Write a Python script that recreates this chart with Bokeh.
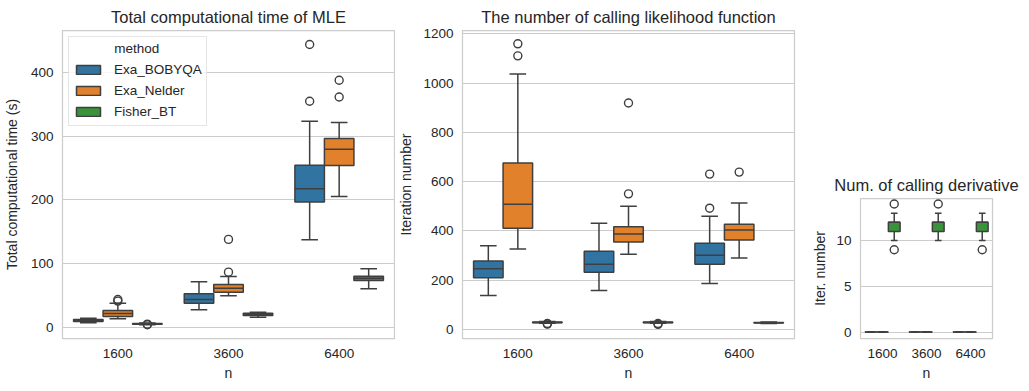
from bokeh.plotting import figure
from bokeh.models import Range1d, FactorRange, Legend, LegendItem, ColumnDataSource, Spacer
from bokeh.transform import dodge
from bokeh.layouts import row, column
from bokeh.embed import file_html
from bokeh.resources import INLINE

n_labels = ["1600", "3600", "6400"]
methods = ["Exa_BOBYQA", "Exa_Nelder", "Fisher_BT"]
colors = ["#3274a1", "#e1812c", "#3a923a"]

# five-number summaries per n: [whisker low, q1, median, q3, whisker high]
time_bobyqa = [[7, 9, 10.5, 12, 14], [27.4, 37.7, 43.5, 52.5, 71.4], [137.4, 196.5, 217.6, 254.2, 323.4]]
time_nelder = [[13.2, 16.8, 21.5, 26.3, 37.7], [49.4, 55.0, 61.3, 67.1, 79.7], [205.5, 253.8, 279.4, 296.2, 321.4]]
time_fisher = [[4.0, 4.7, 5.3, 5.8, 6.6], [15.7, 18.4, 20.0, 22.0, 23.6], [60.4, 73.4, 77.0, 80.2, 91.8]]
time_bobyqa_out = [[], [], [354.9, 444.0]]
time_nelder_out = [[41.0, 43.5], [86.5, 137.9], [361.6, 387.9]]
time_fisher_out = [[4.0, 4.8], [], []]

lik_bobyqa = [[138.3, 209.9, 246.6, 277.9, 340.0], [158.7, 231.9, 264.4, 317.3, 431.2], [187.1, 264.4, 301.0, 349.9, 459.7]]
lik_nelder = [[326.7, 410.9, 508.5, 675.3, 1037.0], [305.0, 355.2, 387.7, 417.4, 500.4], [290.0, 363.3, 404.0, 427.2, 513.8]]
lik_fisher = [[25, 27, 28, 30, 32], [25, 27, 28, 30, 32], [24, 26, 27, 28, 30]]
lik_bobyqa_out = [[], [], [492.3, 630.6]]
lik_nelder_out = [[1110.7, 1159.5], [550.4, 919.4], [638.7]]
lik_fisher_out = [[22, 24], [21, 24], []]

der_bobyqa = [[0, 0, 0, 0, 0], [0, 0, 0, 0, 0], [0, 0, 0, 0, 0]]
der_nelder = [[0, 0, 0, 0, 0], [0, 0, 0, 0, 0], [0, 0, 0, 0, 0]]
der_fisher = [[10, 11, 12, 12, 13], [10, 11, 12, 12, 13], [10, 11, 12, 12, 13]]
der_bobyqa_out = [[], [], []]
der_nelder_out = [[], [], []]
der_fisher_out = [[9, 14], [14], [9]]

time_ticks = [0, 100, 200, 300, 400]
lik_ticks = [0, 200, 400, 600, 800, 1000, 1200]
der_ticks = [0, 5, 10]

EDGE = "#3f3f3f"
TXT = "#262626"
GRID = "#cccccc"
FONT = "Liberation Sans"
BOXW = 0.8 / 3
CAPW = 0.15


def make_fig(title, ylabel, yrange, yticks, frame_w, frame_h, b_left, b_right, lab_standoff):
    p = figure(x_range=FactorRange(*n_labels), y_range=Range1d(*yrange),
               frame_width=frame_w, frame_height=frame_h,
               min_border_left=b_left, min_border_right=b_right,
               min_border_top=30, min_border_bottom=45,
               output_backend="svg", toolbar_location=None, title=title)
    p.title.align = "center"
    p.title.text_font = FONT
    p.title.text_font_size = "16.5px"
    p.title.text_font_style = "normal"
    p.title.text_color = TXT
    p.title.standoff = 9
    p.background_fill_color = "white"
    p.border_fill_color = "white"
    p.outline_line_color = GRID
    p.outline_line_width = 1.25
    p.xgrid.grid_line_color = None
    p.ygrid.grid_line_color = GRID
    p.ygrid.grid_line_width = 1
    p.yaxis.ticker = yticks
    p.xaxis.axis_label = "n"
    p.yaxis.axis_label = ylabel
    for ax in (p.xaxis, p.yaxis):
        ax.axis_line_color = None
        ax.major_tick_line_color = None
        ax.minor_tick_line_color = None
        ax.major_tick_out = 0
        ax.major_tick_in = 0
        ax.minor_tick_out = 0
        ax.minor_tick_in = 0
        ax.major_label_text_font = FONT
        ax.major_label_text_font_size = "13.5px"
        ax.major_label_text_color = TXT
        ax.axis_label_text_font = FONT
        ax.axis_label_text_font_size = "14px"
        ax.axis_label_text_font_style = "normal"
        ax.axis_label_text_color = TXT
    p.yaxis.major_label_standoff = 9
    p.xaxis.major_label_standoff = 10
    p.yaxis.axis_label_standoff = lab_standoff
    p.xaxis.axis_label_standoff = 4
    return p


def draw_boxes(p, stats_list, outs_list):
    box_renderers = []
    for i, (stats, outs, col) in enumerate(zip(stats_list, outs_list, colors)):
        off = (i - 1) * BOXW
        src = ColumnDataSource(dict(
            n=n_labels,
            lo=[s[0] for s in stats], q1=[s[1] for s in stats], med=[s[2] for s in stats],
            q3=[s[3] for s in stats], hi=[s[4] for s in stats]))
        xc = dodge("n", off, range=p.x_range)
        xl = dodge("n", off - CAPW / 2, range=p.x_range)
        xr = dodge("n", off + CAPW / 2, range=p.x_range)
        bl = dodge("n", off - BOXW / 2, range=p.x_range)
        br = dodge("n", off + BOXW / 2, range=p.x_range)
        lw = 1.5
        p.segment(x0=xc, x1=xc, y0="q3", y1="hi", source=src, line_color=EDGE, line_width=lw)
        p.segment(x0=xc, x1=xc, y0="q1", y1="lo", source=src, line_color=EDGE, line_width=lw)
        p.segment(x0=xl, x1=xr, y0="hi", y1="hi", source=src, line_color=EDGE, line_width=lw)
        p.segment(x0=xl, x1=xr, y0="lo", y1="lo", source=src, line_color=EDGE, line_width=lw)
        r = p.vbar(x=xc, width=BOXW, bottom="q1", top="q3", source=src,
                   fill_color=col, line_color=EDGE, line_width=lw)
        p.segment(x0=bl, x1=br, y0="med", y1="med", source=src, line_color=EDGE, line_width=lw)
        on, oy = [], []
        for lab, o in zip(n_labels, outs):
            for v in o:
                on.append(lab)
                oy.append(v)
        osrc = ColumnDataSource(dict(n=on, y=oy))
        p.scatter(x=xc, y="y", source=osrc, marker="circle", size=8,
                  fill_color=None, line_color=EDGE, line_width=1.4)
        box_renderers.append(r)
    return box_renderers


p1 = make_fig("Total computational time of MLE", "Total computational time (s)",
              (-17.7, 466), time_ticks, 332, 308, 55, 1, 8)
rs = draw_boxes(p1, [time_bobyqa, time_nelder, time_fisher],
                [time_bobyqa_out, time_nelder_out, time_fisher_out])
legend = Legend(items=[LegendItem(label=m, renderers=[r]) for m, r in zip(methods, rs)],
                location="top_left")
legend.title = "\u00a0" * 11 + "method"
legend.title_text_font = FONT
legend.title_text_font_size = "13.5px"
legend.title_text_font_style = "normal"
legend.title_text_color = TXT
legend.title_standoff = 3
legend.label_text_font = FONT
legend.label_text_font_size = "13.5px"
legend.label_text_color = TXT
legend.glyph_width = 30
legend.glyph_height = 11
legend.label_height = 20
legend.label_standoff = 11
legend.spacing = 1
legend.padding = 4
legend.margin = 6
legend.border_line_color = GRID
legend.border_line_width = 1
legend.background_fill_color = "white"
legend.background_fill_alpha = 0.8
p1.add_layout(legend, "center")

p2 = make_fig("The number of calling likelihood function", "Iteration number",
              (-36.6, 1213.5), lik_ticks, 332, 308, 60, 15, 6)
draw_boxes(p2, [lik_bobyqa, lik_nelder, lik_fisher],
           [lik_bobyqa_out, lik_nelder_out, lik_fisher_out])

p3 = make_fig("Num. of calling derivative", "Iter. number",
              (-0.7, 14.6), der_ticks, 132, 140, 44, 27, 5)
draw_boxes(p3, [der_bobyqa, der_nelder, der_fisher],
           [der_bobyqa_out, der_nelder_out, der_fisher_out])

layout = row(column(p1), column(p2), column(Spacer(width=203, height=168), p3))
open("out.html", "w").write(file_html(layout, INLINE))
